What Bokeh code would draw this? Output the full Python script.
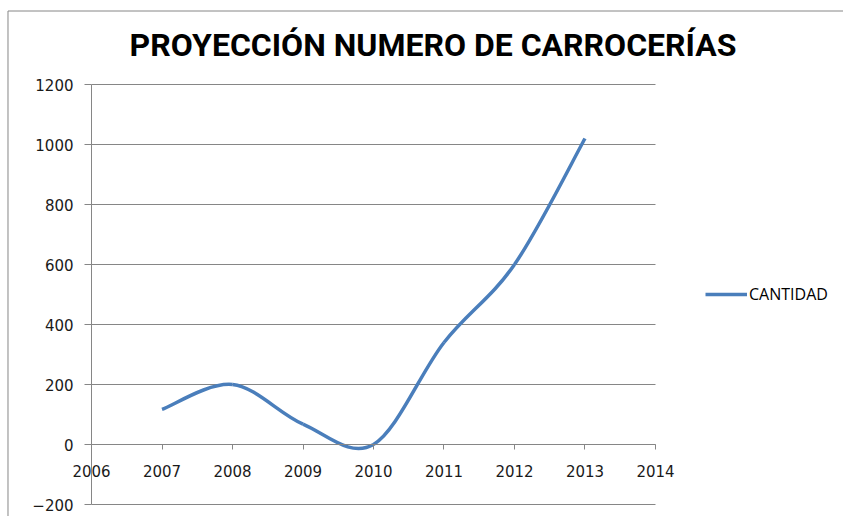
from bokeh.plotting import figure
from bokeh.models import (Range1d, FixedTicker, Label, Legend, LegendItem,
                          BoxAnnotation)
from bokeh.embed import file_html
from bokeh.resources import INLINE

# ---- data ----
years = [2007, 2008, 2009, 2010, 2011, 2012, 2013]
cantidad = [117, 200, 68, 0, 340, 600, 1020]
x_ticks = [2006, 2007, 2008, 2009, 2010, 2011, 2012, 2013, 2014]
y_ticks = [-200, 0, 200, 400, 600, 800, 1000, 1200]
title_text = "PROYECCIÓN NUMERO DE CARROCERÍAS"
series_name = "CANTIDAD"

GRID = "#868686"
LINE = "#4A7EBB"

X_START, X_END = 2004.709, 2016.667
Y_START, Y_END = -240, 1480

# whole canvas is the frame; axes are pinned at x=2006 and y=0
p = figure(width=843, height=516, output_backend="svg", toolbar_location=None,
           title=None,
           x_range=Range1d(X_START, X_END), y_range=Range1d(Y_START, Y_END),
           min_border=0, min_border_left=0, min_border_right=0,
           min_border_top=0, min_border_bottom=0)
p.outline_line_color = None
p.background_fill_color = "white"
p.border_fill_color = "white"

# chart-area border (top and left edges visible; others lie off canvas)
p.add_layout(BoxAnnotation(left=X_START + 7.5 / 70.5, right=X_END + 1,
                           top=Y_END - 10.5 / 0.3, bottom=Y_START - 50,
                           fill_alpha=0, line_color=GRID, line_alpha=1.0,
                           line_width=1))

# horizontal gridlines over the plot area
p.segment(x0=[x_ticks[0]] * len(y_ticks), x1=[x_ticks[-1]] * len(y_ticks),
          y0=y_ticks, y1=y_ticks, line_color=GRID, line_width=1)

# smoothed line (Excel-like) drawn as bezier segments through data points
n = len(years)
x0, y0, x1, y1, cx0, cy0, cx1, cy1 = [], [], [], [], [], [], [], []
for i in range(n - 1):
    ip = max(i - 1, 0)
    inn = min(i + 2, n - 1)
    x0.append(years[i]); y0.append(cantidad[i])
    x1.append(years[i + 1]); y1.append(cantidad[i + 1])
    cx0.append(years[i] + (years[i + 1] - years[ip]) / 6)
    cy0.append(cantidad[i] + (cantidad[i + 1] - cantidad[ip]) / 6)
    cx1.append(years[i + 1] - (years[inn] - years[i]) / 6)
    cy1.append(cantidad[i + 1] - (cantidad[inn] - cantidad[i]) / 6)

r = p.bezier(x0=x0, y0=y0, x1=x1, y1=y1, cx0=cx0, cy0=cy0, cx1=cx1, cy1=cy1,
             line_color=LINE, line_width=3.5)

# axes
p.xaxis.fixed_location = 0
p.xaxis.bounds = (x_ticks[0], x_ticks[-1])
p.xaxis.ticker = FixedTicker(ticks=x_ticks)
p.xaxis.axis_line_color = GRID
p.xaxis.major_tick_line_color = GRID
p.xaxis.major_tick_out = 5
p.xaxis.major_tick_in = 0
p.xaxis.minor_tick_line_color = None
p.xaxis.major_label_standoff = 15
p.xaxis.major_label_text_font = "DejaVu Sans"
p.xaxis.major_label_text_font_size = "15px"
p.xaxis.major_label_text_color = "#1a1a1a"

p.yaxis.fixed_location = x_ticks[0]
p.yaxis.bounds = (y_ticks[0], y_ticks[-1])
p.yaxis.ticker = FixedTicker(ticks=y_ticks)
p.yaxis.axis_line_color = GRID
p.yaxis.major_tick_line_color = GRID
p.yaxis.major_tick_out = 7
p.yaxis.major_tick_in = 0
p.yaxis.minor_tick_line_color = None
p.yaxis.major_label_standoff = 11
p.yaxis.major_label_text_font = "DejaVu Sans"
p.yaxis.major_label_text_font_size = "15px"
p.yaxis.major_label_text_color = "#1a1a1a"

p.xgrid.visible = False
p.ygrid.visible = False

# title
p.add_layout(Label(x=2010.844, y=1333, text=title_text, text_align="center",
                   text_baseline="middle", text_font="Roboto",
                   text_font_style="bold", text_font_size="32px",
                   text_color="black"))

# legend
legend = Legend(items=[LegendItem(label=series_name, renderers=[r])],
                location=(705, 211), glyph_width=42, glyph_height=20,
                label_standoff=2, padding=0, margin=0, spacing=0,
                border_line_color=None, background_fill_alpha=0,
                label_text_font="Open Sans", label_text_font_size="16px",
                label_text_color="black")
p.add_layout(legend, "center")

open("out.html", "w").write(file_html(p, INLINE))
